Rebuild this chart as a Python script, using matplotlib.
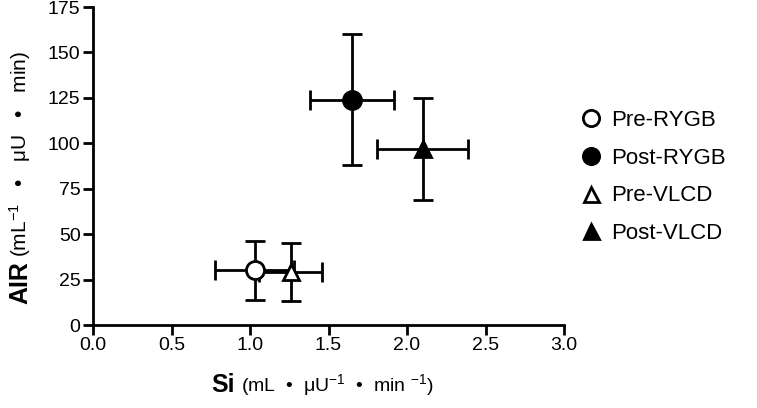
import matplotlib
matplotlib.use("Agg")
import matplotlib.pyplot as plt

plt.rcParams['font.family'] = ['Liberation Sans', 'DejaVu Sans']
plt.rcParams['mathtext.fontset'] = 'custom'
plt.rcParams['mathtext.rm'] = 'Liberation Sans'
plt.rcParams['mathtext.it'] = 'Liberation Sans:italic'
plt.rcParams['mathtext.bf'] = 'Liberation Sans:bold'

# Данные: Si (x) и AIR (y), среднее и ошибка
groups = ["Pre-RYGB", "Post-RYGB", "Pre-VLCD", "Post-VLCD"]
si_mean = [1.03, 1.65, 1.26, 2.10]
si_err = [0.25, 0.27, 0.20, 0.29]
air_mean = [30, 124, 29, 97]
air_err = [16, 36, 16, 28]
markers = ["o", "o", "^", "^"]
filled = [False, True, False, True]
msizes = [13, 13, 12, 12]

fig = plt.figure(figsize=(7.57, 4.08), dpi=100)
ax = fig.add_axes([93 / 757, 1 - 325 / 408, 471 / 757, 318 / 408])

for i, g in enumerate(groups):
    ax.errorbar(si_mean[i], air_mean[i], xerr=si_err[i], yerr=air_err[i],
                fmt=markers[i], color="black", ecolor="black",
                mfc="black" if filled[i] else "white", mec="black", mew=2,
                ms=msizes[i], elinewidth=2, capsize=7, capthick=2, label=g,
                zorder=3)

ax.set_xlim(0, 3.0)
ax.set_ylim(0, 175)
ax.set_xticks([0, 0.5, 1.0, 1.5, 2.0, 2.5, 3.0])
ax.set_xticklabels(["0.0", "0.5", "1.0", "1.5", "2.0", "2.5", "3.0"])
ax.set_yticks(range(0, 176, 25))
ax.spines['top'].set_visible(False)
ax.spines['right'].set_visible(False)
for s in ['left', 'bottom']:
    ax.spines[s].set_linewidth(2)
ax.tick_params(width=2, length=7, labelsize=14, pad=2)

# Подписи осей: жирная часть + единицы
ax.text(0.3015, -0.189, "Si", transform=ax.transAxes, ha="right", va="center",
        fontsize=18, fontweight="bold")
ax.text(0.314, -0.189, r"(mL  •  μU$^{-1}$  •  min $^{-1}$)", transform=ax.transAxes,
        ha="left", va="center", fontsize=14)
ax.text(-0.155, 0.2, "AIR", transform=ax.transAxes, ha="center", va="top",
        rotation=90, fontsize=18, fontweight="bold")
ax.text(-0.155, 0.215, r"(mL$^{-1}$   •   μU   •   min)", transform=ax.transAxes,
        ha="center", va="bottom", rotation=90, fontsize=15)

handles, labels = ax.get_legend_handles_labels()
handles = [h[0] for h in handles]
ax.legend(handles, labels, loc="center left", bbox_to_anchor=(1.034, 0.465),
          frameon=False, fontsize=16, handletextpad=0.4, labelspacing=0.75,
          handlelength=1.0, borderpad=0, borderaxespad=0, markerscale=0.9)

fig.savefig("out.png", dpi=100)
